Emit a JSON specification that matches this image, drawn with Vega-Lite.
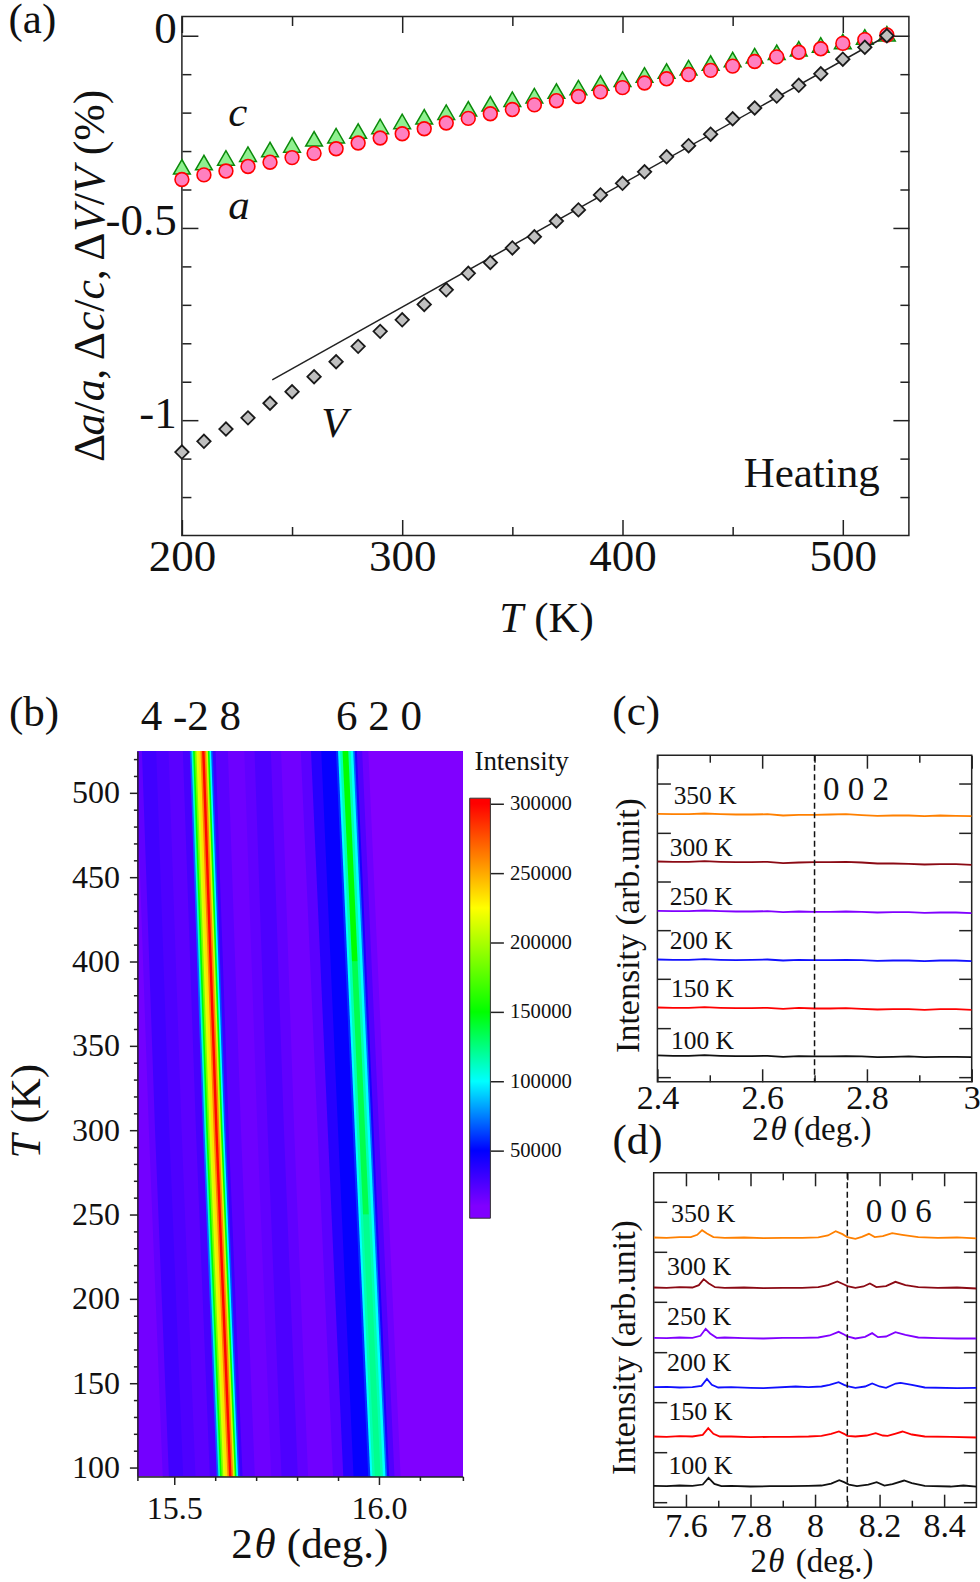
{
"$schema":"https://vega.github.io/schema/vega-lite/v6.json",
"background":"white",
"padding":{"left":5.4,"top":-2.5,"right":0,"bottom":0},
"config":{
"view":{"stroke":null},
"text":{"font":"Liberation Serif","color":"#111"},
"axis":{"grid":false,"domain":false,"labels":false,"ticks":true,"tickColor":"#222","tickWidth":1.5,"tickRound":false,"labelFont":"Liberation Serif","labelColor":"#111","labelFlush":false,"labelOverlap":false,"labelBound":false,"titleFont":"Liberation Serif","titleFontWeight":"normal","titleColor":"#111"}
},
"datasets":{
"heat":[
{"k":"b00","t":94,"x":15.4,"i":14000},{"k":"b00","t":525,"x":15.4,"i":14000},
{"k":"b01","t":94,"x":15.472,"i":20000},{"k":"b01","t":300,"x":15.438,"i":20000},{"k":"b01","t":525,"x":15.406,"i":20000},
{"k":"b02","t":94,"x":15.487,"i":30000},{"k":"b02","t":300,"x":15.453,"i":30000},{"k":"b02","t":525,"x":15.421,"i":30000},
{"k":"b03","t":94,"x":15.522,"i":26000},{"k":"b03","t":300,"x":15.488,"i":26000},{"k":"b03","t":525,"x":15.456,"i":26000},
{"k":"b04","t":94,"x":15.552,"i":22000},{"k":"b04","t":300,"x":15.518,"i":22000},{"k":"b04","t":525,"x":15.486,"i":22000},
{"k":"b05","t":94,"x":15.587,"i":28000},{"k":"b05","t":300,"x":15.553,"i":28000},{"k":"b05","t":525,"x":15.521,"i":28000},
{"k":"p01","t":94,"x":15.604,"i":70000},{"k":"p01","t":300,"x":15.57,"i":70000},{"k":"p01","t":525,"x":15.538,"i":70000},
{"k":"p02","t":94,"x":15.608,"i":110000},{"k":"p02","t":300,"x":15.574,"i":110000},{"k":"p02","t":525,"x":15.542,"i":110000},
{"k":"p03","t":94,"x":15.612,"i":150000},{"k":"p03","t":300,"x":15.578,"i":150000},{"k":"p03","t":525,"x":15.546,"i":150000},
{"k":"p04","t":94,"x":15.616,"i":185000},{"k":"p04","t":300,"x":15.582,"i":185000},{"k":"p04","t":525,"x":15.55,"i":185000},
{"k":"p05","t":94,"x":15.62,"i":215000},{"k":"p05","t":300,"x":15.586,"i":215000},{"k":"p05","t":525,"x":15.554,"i":215000},
{"k":"p06","t":94,"x":15.625,"i":235000},{"k":"p06","t":300,"x":15.591,"i":235000},{"k":"p06","t":525,"x":15.559,"i":235000},
{"k":"p07","t":94,"x":15.63,"i":262000},{"k":"p07","t":300,"x":15.596,"i":262000},{"k":"p07","t":525,"x":15.564,"i":262000},
{"k":"p08","t":94,"x":15.634,"i":298000},{"k":"p08","t":300,"x":15.6,"i":298000},{"k":"p08","t":525,"x":15.568,"i":298000},
{"k":"p09","t":94,"x":15.64,"i":262000},{"k":"p09","t":300,"x":15.606,"i":262000},{"k":"p09","t":525,"x":15.574,"i":262000},
{"k":"p10","t":94,"x":15.644,"i":210000},{"k":"p10","t":300,"x":15.61,"i":210000},{"k":"p10","t":525,"x":15.578,"i":210000},
{"k":"p11","t":94,"x":15.648,"i":150000},{"k":"p11","t":300,"x":15.614,"i":150000},{"k":"p11","t":525,"x":15.582,"i":150000},
{"k":"p12","t":94,"x":15.652,"i":100000},{"k":"p12","t":300,"x":15.618,"i":100000},{"k":"p12","t":525,"x":15.586,"i":100000},
{"k":"p13","t":94,"x":15.656,"i":65000},{"k":"p13","t":300,"x":15.622,"i":65000},{"k":"p13","t":525,"x":15.59,"i":65000},
{"k":"p14","t":94,"x":15.66,"i":32000},{"k":"p14","t":300,"x":15.626,"i":32000},{"k":"p14","t":525,"x":15.594,"i":32000},
{"k":"b06","t":94,"x":15.667,"i":22000},{"k":"b06","t":300,"x":15.633,"i":22000},{"k":"b06","t":525,"x":15.601,"i":22000},
{"k":"b07","t":94,"x":15.697,"i":16000},{"k":"b07","t":300,"x":15.663,"i":16000},{"k":"b07","t":525,"x":15.631,"i":16000},
{"k":"b08","t":94,"x":15.737,"i":20000},{"k":"b08","t":300,"x":15.703,"i":20000},{"k":"b08","t":525,"x":15.671,"i":20000},
{"k":"b09","t":94,"x":15.762,"i":26000},{"k":"b09","t":300,"x":15.728,"i":26000},{"k":"b09","t":525,"x":15.696,"i":26000},
{"k":"b10","t":94,"x":15.802,"i":20000},{"k":"b10","t":300,"x":15.768,"i":20000},{"k":"b10","t":525,"x":15.736,"i":20000},
{"k":"b11","t":94,"x":15.827,"i":15000},{"k":"b11","t":300,"x":15.793,"i":15000},{"k":"b11","t":525,"x":15.761,"i":15000},
{"k":"b12","t":94,"x":15.888,"i":22000},{"k":"b12","t":300,"x":15.85,"i":22000},{"k":"b12","t":525,"x":15.809,"i":22000},
{"k":"b13","t":94,"x":15.913,"i":38000},{"k":"b13","t":300,"x":15.875,"i":38000},{"k":"b13","t":525,"x":15.834,"i":38000},
{"k":"b14","t":94,"x":15.938,"i":48000},{"k":"b14","t":300,"x":15.9,"i":48000},{"k":"b14","t":525,"x":15.859,"i":48000},
{"k":"q01","t":94,"x":15.974,"i":60000},{"k":"q01","t":300,"x":15.936,"i":60000},{"k":"q01","t":525,"x":15.895,"i":60000},
{"k":"q02","t":94,"x":15.979,"i":100000},{"k":"q02","t":300,"x":15.941,"i":100000},{"k":"q02","t":525,"x":15.9,"i":100000},
{"k":"q03","t":94,"x":15.984,"i":115000},{"k":"q03","t":300,"x":15.946,"i":115000},{"k":"q03","t":525,"x":15.905,"i":115000},
{"k":"q04","t":94,"x":15.99,"i":122000},{"k":"q04","t":250,"x":15.961,"i":122000},
{"k":"q05","t":250,"x":15.961,"i":135000},{"k":"q05","t":400,"x":15.934,"i":135000},
{"k":"q06","t":400,"x":15.934,"i":150000},{"k":"q06","t":525,"x":15.911,"i":150000},
{"k":"q07","t":94,"x":16.004,"i":115000},{"k":"q07","t":300,"x":15.966,"i":115000},{"k":"q07","t":525,"x":15.925,"i":115000},
{"k":"q08","t":94,"x":16.01,"i":100000},{"k":"q08","t":300,"x":15.972,"i":100000},{"k":"q08","t":525,"x":15.931,"i":100000},
{"k":"q09","t":94,"x":16.016,"i":70000},{"k":"q09","t":300,"x":15.978,"i":70000},{"k":"q09","t":525,"x":15.937,"i":70000},
{"k":"q10","t":94,"x":16.02,"i":42000},{"k":"q10","t":300,"x":15.982,"i":42000},{"k":"q10","t":525,"x":15.941,"i":42000},
{"k":"b15","t":94,"x":16.025,"i":25000},{"k":"b15","t":300,"x":15.987,"i":25000},{"k":"b15","t":525,"x":15.946,"i":25000},
{"k":"b16","t":94,"x":16.038,"i":16000},{"k":"b16","t":300,"x":16.0,"i":16000},{"k":"b16","t":525,"x":15.959,"i":16000},
{"k":"b17","t":94,"x":16.053,"i":10000},{"k":"b17","t":300,"x":16.015,"i":10000},{"k":"b17","t":525,"x":15.974,"i":10000}
]
},
"vconcat":[
{"bounds":"flush","spacing":43.5,"hconcat":[
{"width":1,"height":1,"data":{"values":[{"n":1}]},"mark":{"type":"point","opacity":0},"encoding":{}},
{"width":727,"height":519,"view":{"stroke":"#222","strokeWidth":1.5},
"resolve":{"axis":{"x":"independent","y":"independent"}},
"layer":[
{"data":{"values":[{"x":200,"y":-0.341},{"x":210,"y":-0.33},{"x":220,"y":-0.318},{"x":230,"y":-0.308},{"x":240,"y":-0.296},{"x":250,"y":-0.284},{"x":260,"y":-0.268},{"x":270,"y":-0.26},{"x":280,"y":-0.248},{"x":290,"y":-0.236},{"x":300,"y":-0.223},{"x":310,"y":-0.211},{"x":320,"y":-0.199},{"x":330,"y":-0.19},{"x":340,"y":-0.177},{"x":350,"y":-0.165},{"x":360,"y":-0.156},{"x":370,"y":-0.144},{"x":380,"y":-0.135},{"x":390,"y":-0.123},{"x":400,"y":-0.113},{"x":410,"y":-0.102},{"x":420,"y":-0.092},{"x":430,"y":-0.083},{"x":440,"y":-0.071},{"x":450,"y":-0.062},{"x":460,"y":-0.052},{"x":470,"y":-0.043},{"x":480,"y":-0.034},{"x":490,"y":-0.024},{"x":500,"y":-0.015},{"x":510,"y":-0.003},{"x":520,"y":0.005}]},
"mark":{"type":"point","shape":"triangle-up","filled":true,"opacity":1,"fill":"#90f090","stroke":"#0a8a0a","strokeWidth":1.5,"size":280},
"encoding":{"x":{"field":"x","type":"quantitative","title":null,"scale":{"domain":[200,530]},"axis":{"orient":"bottom","values":[200,300,400,500],"tickSize":-16,"labels":true,"labelFontSize":45,"labelPadding":14.7,"format":"d"}},
"y":{"field":"y","type":"quantitative","title":null,"scale":{"domain":[-1.3,0.05]},"axis":{"orient":"left","values":[0,-0.5,-1],"tickSize":-16,"labels":true,"labelFontSize":45,"labelPadding":21.7,"labelOffset":-7,"format":"~g","labelExpr":"replace(datum.label,'−','-')"}}}},
{"data":{"values":[{"x":200,"y":-0.374},{"x":210,"y":-0.362},{"x":220,"y":-0.352},{"x":230,"y":-0.34},{"x":240,"y":-0.329},{"x":250,"y":-0.317},{"x":260,"y":-0.306},{"x":270,"y":-0.294},{"x":280,"y":-0.279},{"x":290,"y":-0.266},{"x":300,"y":-0.255},{"x":310,"y":-0.242},{"x":320,"y":-0.227},{"x":330,"y":-0.215},{"x":340,"y":-0.203},{"x":350,"y":-0.192},{"x":360,"y":-0.18},{"x":370,"y":-0.169},{"x":380,"y":-0.158},{"x":390,"y":-0.146},{"x":400,"y":-0.135},{"x":410,"y":-0.123},{"x":420,"y":-0.112},{"x":430,"y":-0.101},{"x":440,"y":-0.09},{"x":450,"y":-0.079},{"x":460,"y":-0.067},{"x":470,"y":-0.055},{"x":480,"y":-0.043},{"x":490,"y":-0.034},{"x":500,"y":-0.02},{"x":510,"y":-0.01},{"x":520,"y":0.002}]},
"mark":{"type":"point","shape":"circle","filled":true,"opacity":1,"fill":"#ff80c0","stroke":"#ff0000","strokeWidth":1.6,"size":190},
"encoding":{"x":{"field":"x","type":"quantitative","title":null,"scale":{"domain":[200,530]},"axis":{"orient":"top","values":[200,300,400,500],"tickSize":-16}},
"y":{"field":"y","type":"quantitative","title":null,"scale":{"domain":[-1.3,0.05]},"axis":{"orient":"right","values":[0,-0.5,-1],"tickSize":-16}}}},
{"data":{"values":[{"x":241,"y":-0.895},{"x":520,"y":0}]},
"mark":{"type":"line","color":"#222","strokeWidth":1.5},
"encoding":{"x":{"field":"x","type":"quantitative","title":null,"scale":{"domain":[200,530]},"axis":{"orient":"bottom","values":[250,350,450],"tickSize":-9}},
"y":{"field":"y","type":"quantitative","title":null,"scale":{"domain":[-1.3,0.05]},"axis":{"orient":"left","values":[-0.1,-0.2,-0.3,-0.4,-0.6,-0.7,-0.8,-0.9,-1.1,-1.2],"tickSize":-9}}}},
{"data":{"values":[{"x":200,"y":-1.083},{"x":210,"y":-1.055},{"x":220,"y":-1.023},{"x":230,"y":-0.994},{"x":240,"y":-0.956},{"x":250,"y":-0.926},{"x":260,"y":-0.887},{"x":270,"y":-0.848},{"x":280,"y":-0.808},{"x":290,"y":-0.769},{"x":300,"y":-0.739},{"x":310,"y":-0.699},{"x":320,"y":-0.661},{"x":330,"y":-0.618},{"x":340,"y":-0.59},{"x":350,"y":-0.552},{"x":360,"y":-0.523},{"x":370,"y":-0.482},{"x":380,"y":-0.453},{"x":390,"y":-0.414},{"x":400,"y":-0.384},{"x":410,"y":-0.354},{"x":420,"y":-0.315},{"x":430,"y":-0.286},{"x":440,"y":-0.256},{"x":450,"y":-0.216},{"x":460,"y":-0.188},{"x":470,"y":-0.157},{"x":480,"y":-0.129},{"x":490,"y":-0.099},{"x":500,"y":-0.061},{"x":510,"y":-0.03},{"x":520,"y":0}]},
"mark":{"type":"point","shape":"diamond","filled":true,"opacity":1,"fill":"#c0c0c0","stroke":"#1a1a1a","strokeWidth":1.8,"size":180},
"encoding":{"x":{"field":"x","type":"quantitative","title":null,"scale":{"domain":[200,530]},"axis":{"orient":"top","values":[250,350,450],"tickSize":-9}},
"y":{"field":"y","type":"quantitative","title":null,"scale":{"domain":[-1.3,0.05]},"axis":{"orient":"right","values":[-0.1,-0.2,-0.3,-0.4,-0.6,-0.7,-0.8,-0.9,-1.1,-1.2],"tickSize":-9}}}},
{"data":{"values":[{"x":121.3,"y":0.008,"s":"(a)"},{"x":359.9,"y":-1.551,"s":"(K)"},{"x":455,"y":-1.174,"s":"Heating"}]},
"mark":{"type":"text","align":"left","baseline":"alphabetic","fontSize":43},
"encoding":{"x":{"field":"x","type":"quantitative","scale":{"domain":[200,530]},"axis":null},"y":{"field":"y","type":"quantitative","scale":{"domain":[-1.3,0.05]},"axis":null},"text":{"field":"s"}}},
{"data":{"values":[{"x":344,"y":-1.551,"s":"T"},{"x":221,"y":-0.234,"s":"c"},{"x":221,"y":-0.476,"s":"a"},{"x":263.2,"y":-1.045,"s":"V"}]},
"mark":{"type":"text","align":"left","baseline":"alphabetic","fontSize":43,"fontStyle":"italic"},
"encoding":{"x":{"field":"x","type":"quantitative","scale":{"domain":[200,530]},"axis":null},"y":{"field":"y","type":"quantitative","scale":{"domain":[-1.3,0.05]},"axis":null},"text":{"field":"s"}}},
{"data":{"values":[{"x":164.6,"y":-1.109,"s":"Δ"},{"x":164.6,"y":-0.983,"s":"/"},{"x":164.6,"y":-0.895,"s":", Δ"},{"x":164.6,"y":-0.718,"s":"/"},{"x":164.6,"y":-0.636,"s":", Δ"},{"x":164.6,"y":-0.441,"s":"/"},{"x":164.6,"y":-0.311,"s":"(%)"}]},
"mark":{"type":"text","align":"left","baseline":"alphabetic","fontSize":43.7,"angle":270},
"encoding":{"x":{"field":"x","type":"quantitative","scale":{"domain":[200,530]},"axis":null},"y":{"field":"y","type":"quantitative","scale":{"domain":[-1.3,0.05]},"axis":null},"text":{"field":"s"}}},
{"data":{"values":[{"x":164.6,"y":-1.04,"s":"a"},{"x":164.6,"y":-0.951,"s":"a"},{"x":164.6,"y":-0.768,"s":"c"},{"x":164.6,"y":-0.686,"s":"c"},{"x":164.6,"y":-0.51,"s":"V"},{"x":164.6,"y":-0.409,"s":"V"}]},
"mark":{"type":"text","align":"left","baseline":"alphabetic","fontSize":43.7,"fontStyle":"italic","angle":270},
"encoding":{"x":{"field":"x","type":"quantitative","scale":{"domain":[200,530]},"axis":null},"y":{"field":"y","type":"quantitative","scale":{"domain":[-1.3,0.05]},"axis":null},"text":{"field":"s"}}}
]}
]},
{"bounds":"flush","spacing":6.3,"hconcat":[
{"width":325.5,"height":725.5,
"resolve":{"axis":{"x":"independent","y":"independent"}},
"layer":[
{"data":{"name":"heat"},
"mark":{"type":"area","orient":"horizontal","clip":true,"interpolate":"linear"},
"encoding":{"x":{"field":"x","type":"quantitative","stack":null,"title":null,"scale":{"domain":[15.41,16.205]},"axis":{"orient":"bottom","values":[15.5,16],"format":".1f","tickSize":8,"domain":true,"domainColor":"#222","domainWidth":1.5,"labels":true,"labelFontSize":32,"labelPadding":9,"zindex":1}},"x2":{"datum":16.21},
"y":{"field":"t","type":"quantitative","title":null,"scale":{"domain":[94.7,524.8]},"axis":{"orient":"left","values":[100,150,200,250,300,350,400,450,500],"format":"d","tickSize":8,"domain":true,"domainColor":"#222","domainWidth":1.5,"labels":true,"labelFontSize":32,"labelPadding":10,"zindex":1}},
"detail":{"field":"k"},
"color":{"field":"i","type":"quantitative","legend":null,"scale":{"domain":[10000,50000,100000,150000,225000,262000,300000],"range":["#8000ff","#0000ff","#00ffff","#00ff00","#ffff00","#ff8000","#ff0000"],"interpolate":"rgb"}}}},
{"data":{"values":[{"x":15.0965,"y":539.4,"s":"(b)"},{"x":15.418,"y":537,"s":"4 -2 8"},{"x":15.895,"y":537,"s":"6 2 0"},{"x":15.639,"y":46.6,"s":"2"},{"x":15.775,"y":46.6,"s":"(deg.)"}]},
"mark":{"type":"text","align":"left","baseline":"alphabetic","fontSize":43},
"encoding":{"x":{"field":"x","type":"quantitative","title":null,"scale":{"domain":[15.41,16.205]},"axis":{"orient":"bottom","values":[15.41,15.6,15.7,15.8,15.9,16.1,16.205],"tickSize":4,"zindex":1}},
"y":{"field":"y","type":"quantitative","title":null,"scale":{"domain":[94.7,524.8]},"axis":{"orient":"left","values":[110,120,130,140,160,170,180,190,210,220,230,240,260,270,280,290,310,320,330,340,360,370,380,390,410,420,430,440,460,470,480,490,510,520],"tickSize":4,"zindex":1}},"text":{"field":"s"}}},
{"data":{"values":[{"x":15.696,"y":46.6,"s":"θ"}]},
"mark":{"type":"text","align":"left","baseline":"alphabetic","fontSize":43,"fontStyle":"italic"},
"encoding":{"x":{"field":"x","type":"quantitative","scale":{"domain":[15.41,16.205]},"axis":null},"y":{"field":"y","type":"quantitative","scale":{"domain":[94.7,524.8]},"axis":null},"text":{"field":"s"}}},
{"data":{"values":[{"x":15.172,"y":303.9,"s":"(K)"}]},
"mark":{"type":"text","align":"left","baseline":"alphabetic","fontSize":43,"angle":270},
"encoding":{"x":{"field":"x","type":"quantitative","scale":{"domain":[15.41,16.205]},"axis":null},"y":{"field":"y","type":"quantitative","scale":{"domain":[94.7,524.8]},"axis":null},"text":{"field":"s"}}},
{"data":{"values":[{"x":15.172,"y":283.2,"s":"T"}]},
"mark":{"type":"text","align":"left","baseline":"alphabetic","fontSize":43,"fontStyle":"italic","angle":270},
"encoding":{"x":{"field":"x","type":"quantitative","scale":{"domain":[15.41,16.205]},"axis":null},"y":{"field":"y","type":"quantitative","scale":{"domain":[94.7,524.8]},"axis":null},"text":{"field":"s"}}}
]},
{"bounds":"flush","spacing":184,"hconcat":[
{"bounds":"flush","spacing":46.2,"vconcat":[
{"width":1,"height":1,"data":{"values":[{"n":1}]},"mark":{"type":"point","opacity":0},"encoding":{}},
{"width":20.7,"height":420,
"title":{"text":"Intensity","anchor":"start","frame":"group","fontSize":27,"font":"Liberation Serif","fontWeight":"normal","color":"#111","baseline":"alphabetic","offset":-4.3,"dx":4.7},
"data":{"values":[{"lo":1300,"hi":304000}]},
"mark":{"type":"rect","stroke":"#333","strokeWidth":1,"color":{"gradient":"linear","x1":0,"y1":1,"x2":0,"y2":0,"stops":[{"offset":0,"color":"#8000ff"},{"offset":0.029,"color":"#8000ff"},{"offset":0.161,"color":"#0000ff"},{"offset":0.326,"color":"#00ffff"},{"offset":0.491,"color":"#00ff00"},{"offset":0.739,"color":"#ffff00"},{"offset":0.861,"color":"#ff8000"},{"offset":0.987,"color":"#ff0000"},{"offset":1,"color":"#ff0000"}]}},
"encoding":{"y":{"field":"lo","type":"quantitative","title":null,"scale":{"domain":[1300,304000]},"axis":{"orient":"right","values":[50000,100000,150000,200000,250000,300000],"format":"d","tickSize":13,"labels":true,"labelFontSize":20.7,"labelPadding":6}},"y2":{"field":"hi"}}}
]},
{"bounds":"flush","spacing":3.2,"vconcat":[
{"width":1,"height":1,"data":{"values":[{"n":1}]},"mark":{"type":"point","opacity":0},"encoding":{}},
{"bounds":"flush","spacing":417.6,"vconcat":[
{"bounds":"flush","spacing":2.7,"hconcat":[
{"width":1,"height":1,"data":{"values":[{"n":1}]},"mark":{"type":"point","opacity":0},"encoding":{}},
{"width":314.3,"height":326.6,"view":{"stroke":"#222","strokeWidth":1.5},
"resolve":{"axis":{"x":"independent","y":"independent"}},
"layer":[
{"data":{"values":[
{"t":"350 K","x":2.4,"y":790},{"t":"350 K","x":2.43,"y":789},{"t":"350 K","x":2.46,"y":789},{"t":"350 K","x":2.49,"y":791},{"t":"350 K","x":2.52,"y":789},{"t":"350 K","x":2.55,"y":788},{"t":"350 K","x":2.58,"y":788},{"t":"350 K","x":2.61,"y":789},{"t":"350 K","x":2.64,"y":785},{"t":"350 K","x":2.67,"y":787},{"t":"350 K","x":2.7,"y":787},{"t":"350 K","x":2.73,"y":788},{"t":"350 K","x":2.76,"y":789},{"t":"350 K","x":2.79,"y":786},{"t":"350 K","x":2.82,"y":784},{"t":"350 K","x":2.85,"y":785},{"t":"350 K","x":2.88,"y":785},{"t":"350 K","x":2.91,"y":783},{"t":"350 K","x":2.94,"y":785},{"t":"350 K","x":2.97,"y":784},{"t":"350 K","x":3,"y":783},
{"t":"300 K","x":2.4,"y":647},{"t":"300 K","x":2.43,"y":646},{"t":"300 K","x":2.46,"y":646},{"t":"300 K","x":2.49,"y":648},{"t":"300 K","x":2.52,"y":646},{"t":"300 K","x":2.55,"y":645},{"t":"300 K","x":2.58,"y":645},{"t":"300 K","x":2.61,"y":646},{"t":"300 K","x":2.64,"y":642},{"t":"300 K","x":2.67,"y":644},{"t":"300 K","x":2.7,"y":645},{"t":"300 K","x":2.73,"y":645},{"t":"300 K","x":2.76,"y":646},{"t":"300 K","x":2.79,"y":644},{"t":"300 K","x":2.82,"y":641},{"t":"300 K","x":2.85,"y":641},{"t":"300 K","x":2.88,"y":640},{"t":"300 K","x":2.91,"y":638},{"t":"300 K","x":2.94,"y":639},{"t":"300 K","x":2.97,"y":639},{"t":"300 K","x":3,"y":637},
{"t":"250 K","x":2.4,"y":499},{"t":"250 K","x":2.43,"y":498},{"t":"250 K","x":2.46,"y":498},{"t":"250 K","x":2.49,"y":500},{"t":"250 K","x":2.52,"y":498},{"t":"250 K","x":2.55,"y":497},{"t":"250 K","x":2.58,"y":497},{"t":"250 K","x":2.61,"y":498},{"t":"250 K","x":2.64,"y":495},{"t":"250 K","x":2.67,"y":497},{"t":"250 K","x":2.7,"y":496},{"t":"250 K","x":2.73,"y":496},{"t":"250 K","x":2.76,"y":497},{"t":"250 K","x":2.79,"y":496},{"t":"250 K","x":2.82,"y":494},{"t":"250 K","x":2.85,"y":495},{"t":"250 K","x":2.88,"y":495},{"t":"250 K","x":2.91,"y":493},{"t":"250 K","x":2.94,"y":494},{"t":"250 K","x":2.97,"y":494},{"t":"250 K","x":3,"y":492},
{"t":"200 K","x":2.4,"y":353},{"t":"200 K","x":2.43,"y":352},{"t":"200 K","x":2.46,"y":352},{"t":"200 K","x":2.49,"y":354},{"t":"200 K","x":2.52,"y":352},{"t":"200 K","x":2.55,"y":351},{"t":"200 K","x":2.58,"y":352},{"t":"200 K","x":2.61,"y":353},{"t":"200 K","x":2.64,"y":350},{"t":"200 K","x":2.67,"y":352},{"t":"200 K","x":2.7,"y":351},{"t":"200 K","x":2.73,"y":351},{"t":"200 K","x":2.76,"y":352},{"t":"200 K","x":2.79,"y":351},{"t":"200 K","x":2.82,"y":349},{"t":"200 K","x":2.85,"y":350},{"t":"200 K","x":2.88,"y":350},{"t":"200 K","x":2.91,"y":348},{"t":"200 K","x":2.94,"y":350},{"t":"200 K","x":2.97,"y":350},{"t":"200 K","x":3,"y":348},
{"t":"150 K","x":2.4,"y":209},{"t":"150 K","x":2.43,"y":208},{"t":"150 K","x":2.46,"y":208},{"t":"150 K","x":2.49,"y":210},{"t":"150 K","x":2.52,"y":208},{"t":"150 K","x":2.55,"y":207},{"t":"150 K","x":2.58,"y":207},{"t":"150 K","x":2.61,"y":208},{"t":"150 K","x":2.64,"y":205},{"t":"150 K","x":2.67,"y":208},{"t":"150 K","x":2.7,"y":206},{"t":"150 K","x":2.73,"y":206},{"t":"150 K","x":2.76,"y":207},{"t":"150 K","x":2.79,"y":205},{"t":"150 K","x":2.82,"y":203},{"t":"150 K","x":2.85,"y":204},{"t":"150 K","x":2.88,"y":204},{"t":"150 K","x":2.91,"y":202},{"t":"150 K","x":2.94,"y":204},{"t":"150 K","x":2.97,"y":204},{"t":"150 K","x":3,"y":202},
{"t":"100 K","x":2.4,"y":65},{"t":"100 K","x":2.43,"y":64},{"t":"100 K","x":2.46,"y":64},{"t":"100 K","x":2.49,"y":66},{"t":"100 K","x":2.52,"y":64},{"t":"100 K","x":2.55,"y":63},{"t":"100 K","x":2.58,"y":63},{"t":"100 K","x":2.61,"y":64},{"t":"100 K","x":2.64,"y":61},{"t":"100 K","x":2.67,"y":63},{"t":"100 K","x":2.7,"y":62},{"t":"100 K","x":2.73,"y":62},{"t":"100 K","x":2.76,"y":63},{"t":"100 K","x":2.79,"y":62},{"t":"100 K","x":2.82,"y":60},{"t":"100 K","x":2.85,"y":61},{"t":"100 K","x":2.88,"y":62},{"t":"100 K","x":2.91,"y":60},{"t":"100 K","x":2.94,"y":61},{"t":"100 K","x":2.97,"y":61},{"t":"100 K","x":3,"y":60}
]},
"mark":{"type":"line","strokeWidth":1.8,"clip":true},
"encoding":{"x":{"field":"x","type":"quantitative","title":null,"scale":{"domain":[2.4,3]},"axis":{"orient":"bottom","values":[2.4,2.6,2.8,3],"format":"~g","tickSize":-13,"labels":true,"labelFontSize":34,"labelPadding":13}},
"y":{"field":"y","type":"quantitative","scale":{"domain":[-14,966]},"title":"Intensity (arb.unit)","axis":{"orient":"left","values":[0,147,295,441,587,733,881],"tickSize":-13,"titleFontSize":34,"titleX":-19,"titleY":169.8,"titleAngle":270,"titleBaseline":"alphabetic"}},
"color":{"field":"t","type":"nominal","legend":null,"scale":{"domain":["350 K","300 K","250 K","200 K","150 K","100 K"],"range":["#ff8000","#8b0a14","#8000ff","#1010ff","#ff0000","#111111"]}}}},
{"data":{"values":[{"x":2.7}]},
"mark":{"type":"rule","strokeDash":[6,3.5],"strokeWidth":1.5,"color":"#111"},
"encoding":{"x":{"field":"x","type":"quantitative","title":null,"scale":{"domain":[2.4,3]},"axis":{"orient":"top","values":[2.4,2.6,2.8,3],"tickSize":-13}}}},
{"data":{"values":[{"x":2.431,"y":821,"s":"350 K"},{"x":2.4235,"y":663,"s":"300 K"},{"x":2.4235,"y":518,"s":"250 K"},{"x":2.4235,"y":385,"s":"200 K"},{"x":2.426,"y":240,"s":"150 K"},{"x":2.426,"y":83,"s":"100 K"}]},
"mark":{"type":"text","align":"left","baseline":"alphabetic","fontSize":25.5},
"encoding":{"x":{"field":"x","type":"quantitative","title":null,"scale":{"domain":[2.4,3]},"axis":{"orient":"bottom","values":[2.5,2.7,2.9],"tickSize":-7}},
"y":{"field":"y","type":"quantitative","title":null,"scale":{"domain":[-14,966]},"axis":{"orient":"right","values":[0,147,295,441,587,733,881],"tickSize":-13}},"text":{"field":"s"}}},
{"data":{"values":[{"x":2.716,"y":831,"s":"0 0 2"},{"x":2.581,"y":-190,"s":"2"},{"x":2.66,"y":-190,"s":"(deg.)"}]},
"mark":{"type":"text","align":"left","baseline":"alphabetic","fontSize":33},
"encoding":{"x":{"field":"x","type":"quantitative","title":null,"scale":{"domain":[2.4,3]},"axis":{"orient":"top","values":[2.5,2.7,2.9],"tickSize":-7}},
"y":{"field":"y","type":"quantitative","scale":{"domain":[-14,966]},"axis":null},"text":{"field":"s"}}},
{"data":{"values":[{"x":2.616,"y":-190,"s":"θ"}]},
"mark":{"type":"text","align":"left","baseline":"alphabetic","fontSize":33,"fontStyle":"italic"},
"encoding":{"x":{"field":"x","type":"quantitative","scale":{"domain":[2.4,3]},"axis":null},"y":{"field":"y","type":"quantitative","scale":{"domain":[-14,966]},"axis":null},"text":{"field":"s"}}},
{"data":{"values":[{"x":2.314,"y":1058,"s":"(c)"}]},
"mark":{"type":"text","align":"left","baseline":"alphabetic","fontSize":43},
"encoding":{"x":{"field":"x","type":"quantitative","scale":{"domain":[2.4,3]},"axis":null},"y":{"field":"y","type":"quantitative","scale":{"domain":[-14,966]},"axis":null},"text":{"field":"s"}}}
]}
]},
{"width":322.7,"height":334.4,"view":{"stroke":"#222","strokeWidth":1.5},
"resolve":{"axis":{"x":"independent","y":"independent"}},
"layer":[
{"data":{"values":[
{"t":"350 K","x":7.5,"y":794},{"t":"350 K","x":7.54,"y":793},{"t":"350 K","x":7.58,"y":795},{"t":"350 K","x":7.615,"y":795},{"t":"350 K","x":7.635,"y":802},{"t":"350 K","x":7.65,"y":816},{"t":"350 K","x":7.665,"y":806},{"t":"350 K","x":7.685,"y":795},{"t":"350 K","x":7.72,"y":793},{"t":"350 K","x":7.78,"y":794},{"t":"350 K","x":7.84,"y":792},{"t":"350 K","x":7.9,"y":793},{"t":"350 K","x":7.96,"y":793},{"t":"350 K","x":8.01,"y":794},{"t":"350 K","x":8.04,"y":800},{"t":"350 K","x":8.064,"y":813},{"t":"350 K","x":8.085,"y":804},{"t":"350 K","x":8.1,"y":795},{"t":"350 K","x":8.125,"y":790},{"t":"350 K","x":8.145,"y":796},{"t":"350 K","x":8.167,"y":805},{"t":"350 K","x":8.185,"y":795},{"t":"350 K","x":8.21,"y":798},{"t":"350 K","x":8.239,"y":807},{"t":"350 K","x":8.27,"y":802},{"t":"350 K","x":8.32,"y":795},{"t":"350 K","x":8.38,"y":793},{"t":"350 K","x":8.44,"y":794},{"t":"350 K","x":8.5,"y":791},
{"t":"300 K","x":7.5,"y":644},{"t":"300 K","x":7.54,"y":643},{"t":"300 K","x":7.58,"y":645},{"t":"300 K","x":7.62,"y":644},{"t":"300 K","x":7.64,"y":651},{"t":"300 K","x":7.655,"y":669},{"t":"300 K","x":7.67,"y":657},{"t":"300 K","x":7.69,"y":645},{"t":"300 K","x":7.72,"y":643},{"t":"300 K","x":7.78,"y":644},{"t":"300 K","x":7.84,"y":642},{"t":"300 K","x":7.9,"y":643},{"t":"300 K","x":7.96,"y":643},{"t":"300 K","x":8.01,"y":645},{"t":"300 K","x":8.04,"y":651},{"t":"300 K","x":8.069,"y":662},{"t":"300 K","x":8.09,"y":653},{"t":"300 K","x":8.1,"y":648},{"t":"300 K","x":8.125,"y":643},{"t":"300 K","x":8.15,"y":647},{"t":"300 K","x":8.17,"y":656},{"t":"300 K","x":8.19,"y":645},{"t":"300 K","x":8.22,"y":648},{"t":"300 K","x":8.249,"y":661},{"t":"300 K","x":8.28,"y":651},{"t":"300 K","x":8.32,"y":645},{"t":"300 K","x":8.38,"y":643},{"t":"300 K","x":8.44,"y":644},{"t":"300 K","x":8.5,"y":641},
{"t":"250 K","x":7.5,"y":493},{"t":"250 K","x":7.54,"y":492},{"t":"250 K","x":7.58,"y":494},{"t":"250 K","x":7.62,"y":493},{"t":"250 K","x":7.645,"y":499},{"t":"250 K","x":7.661,"y":520},{"t":"250 K","x":7.675,"y":506},{"t":"250 K","x":7.695,"y":493},{"t":"250 K","x":7.72,"y":494},{"t":"250 K","x":7.78,"y":492},{"t":"250 K","x":7.84,"y":491},{"t":"250 K","x":7.9,"y":493},{"t":"250 K","x":7.96,"y":493},{"t":"250 K","x":8.01,"y":494},{"t":"250 K","x":8.045,"y":500},{"t":"250 K","x":8.073,"y":511},{"t":"250 K","x":8.09,"y":503},{"t":"250 K","x":8.1,"y":497},{"t":"250 K","x":8.125,"y":491},{"t":"250 K","x":8.155,"y":496},{"t":"250 K","x":8.177,"y":507},{"t":"250 K","x":8.195,"y":495},{"t":"250 K","x":8.22,"y":497},{"t":"250 K","x":8.249,"y":510},{"t":"250 K","x":8.28,"y":502},{"t":"250 K","x":8.32,"y":494},{"t":"250 K","x":8.38,"y":492},{"t":"250 K","x":8.44,"y":491},{"t":"250 K","x":8.5,"y":491},
{"t":"200 K","x":7.5,"y":345},{"t":"200 K","x":7.54,"y":346},{"t":"200 K","x":7.58,"y":344},{"t":"200 K","x":7.62,"y":345},{"t":"200 K","x":7.648,"y":349},{"t":"200 K","x":7.665,"y":370},{"t":"200 K","x":7.68,"y":352},{"t":"200 K","x":7.7,"y":344},{"t":"200 K","x":7.74,"y":345},{"t":"200 K","x":7.8,"y":343},{"t":"200 K","x":7.84,"y":342},{"t":"200 K","x":7.94,"y":347},{"t":"200 K","x":7.98,"y":345},{"t":"200 K","x":8.02,"y":347},{"t":"200 K","x":8.045,"y":352},{"t":"200 K","x":8.073,"y":360},{"t":"200 K","x":8.09,"y":352},{"t":"200 K","x":8.1,"y":348},{"t":"200 K","x":8.125,"y":343},{"t":"200 K","x":8.155,"y":347},{"t":"200 K","x":8.177,"y":356},{"t":"200 K","x":8.2,"y":347},{"t":"200 K","x":8.22,"y":343},{"t":"200 K","x":8.25,"y":356},{"t":"200 K","x":8.265,"y":358},{"t":"200 K","x":8.3,"y":352},{"t":"200 K","x":8.34,"y":344},{"t":"200 K","x":8.44,"y":342},{"t":"200 K","x":8.5,"y":343},
{"t":"150 K","x":7.5,"y":197},{"t":"150 K","x":7.54,"y":196},{"t":"150 K","x":7.58,"y":198},{"t":"150 K","x":7.62,"y":197},{"t":"150 K","x":7.652,"y":202},{"t":"150 K","x":7.669,"y":222},{"t":"150 K","x":7.685,"y":205},{"t":"150 K","x":7.705,"y":197},{"t":"150 K","x":7.74,"y":197},{"t":"150 K","x":7.8,"y":195},{"t":"150 K","x":7.86,"y":196},{"t":"150 K","x":7.92,"y":196},{"t":"150 K","x":7.98,"y":197},{"t":"150 K","x":8.02,"y":199},{"t":"150 K","x":8.05,"y":205},{"t":"150 K","x":8.074,"y":212},{"t":"150 K","x":8.09,"y":205},{"t":"150 K","x":8.1,"y":199},{"t":"150 K","x":8.125,"y":197},{"t":"150 K","x":8.16,"y":200},{"t":"150 K","x":8.188,"y":207},{"t":"150 K","x":8.21,"y":200},{"t":"150 K","x":8.225,"y":199},{"t":"150 K","x":8.25,"y":206},{"t":"150 K","x":8.271,"y":212},{"t":"150 K","x":8.3,"y":203},{"t":"150 K","x":8.34,"y":197},{"t":"150 K","x":8.42,"y":196},{"t":"150 K","x":8.5,"y":194},
{"t":"100 K","x":7.5,"y":49},{"t":"100 K","x":7.54,"y":48},{"t":"100 K","x":7.58,"y":50},{"t":"100 K","x":7.62,"y":49},{"t":"100 K","x":7.652,"y":53},{"t":"100 K","x":7.67,"y":73},{"t":"100 K","x":7.688,"y":55},{"t":"100 K","x":7.71,"y":48},{"t":"100 K","x":7.74,"y":49},{"t":"100 K","x":7.8,"y":47},{"t":"100 K","x":7.86,"y":48},{"t":"100 K","x":7.92,"y":48},{"t":"100 K","x":7.98,"y":49},{"t":"100 K","x":8.02,"y":50},{"t":"100 K","x":8.05,"y":56},{"t":"100 K","x":8.075,"y":66},{"t":"100 K","x":8.09,"y":60},{"t":"100 K","x":8.105,"y":53},{"t":"100 K","x":8.13,"y":48},{"t":"100 K","x":8.165,"y":53},{"t":"100 K","x":8.191,"y":60},{"t":"100 K","x":8.215,"y":50},{"t":"100 K","x":8.24,"y":54},{"t":"100 K","x":8.276,"y":65},{"t":"100 K","x":8.3,"y":57},{"t":"100 K","x":8.34,"y":49},{"t":"100 K","x":8.42,"y":47},{"t":"100 K","x":8.46,"y":50},{"t":"100 K","x":8.5,"y":47}
]},
"mark":{"type":"line","strokeWidth":1.8,"clip":true},
"encoding":{"x":{"field":"x","type":"quantitative","title":null,"scale":{"domain":[7.5,8.5]},"axis":{"orient":"bottom","values":[7.6,7.8,8,8.2,8.4],"format":"~g","tickSize":-13,"labels":true,"labelFontSize":34,"labelPadding":15.5}},
"y":{"field":"y","type":"quantitative","scale":{"domain":[-15,988]},"title":"Intensity (arb.unit)","axis":{"orient":"left","values":[0,150,300,450,601,751,901],"tickSize":-13,"titleFontSize":34,"titleX":-19,"titleY":174.2,"titleAngle":270,"titleBaseline":"alphabetic"}},
"color":{"field":"t","type":"nominal","legend":null,"scale":{"domain":["350 K","300 K","250 K","200 K","150 K","100 K"],"range":["#ff8000","#8b0a14","#8000ff","#1010ff","#ff0000","#111111"]}}}},
{"data":{"values":[{"x":8.1}]},
"mark":{"type":"rule","strokeDash":[6,3.5],"strokeWidth":1.5,"color":"#111"},
"encoding":{"x":{"field":"x","type":"quantitative","title":null,"scale":{"domain":[7.5,8.5]},"axis":{"orient":"top","values":[7.6,7.8,8,8.2,8.4],"tickSize":-13}}}},
{"data":{"values":[{"x":7.554,"y":840,"s":"350 K"},{"x":7.541,"y":680,"s":"300 K"},{"x":7.541,"y":530,"s":"250 K"},{"x":7.541,"y":394,"s":"200 K"},{"x":7.5455,"y":246,"s":"150 K"},{"x":7.5455,"y":85,"s":"100 K"}]},
"mark":{"type":"text","align":"left","baseline":"alphabetic","fontSize":26},
"encoding":{"x":{"field":"x","type":"quantitative","title":null,"scale":{"domain":[7.5,8.5]},"axis":{"orient":"bottom","values":[7.7,7.9,8.1,8.3],"tickSize":-7}},
"y":{"field":"y","type":"quantitative","title":null,"scale":{"domain":[-15,988]},"axis":{"orient":"right","values":[0,150,300,450,601,751,901],"tickSize":-13}},"text":{"field":"s"}}},
{"data":{"values":[{"x":8.157,"y":841,"s":"0 0 6"},{"x":7.8,"y":-208,"s":"2"},{"x":7.94,"y":-208,"s":"(deg.)"}]},
"mark":{"type":"text","align":"left","baseline":"alphabetic","fontSize":33},
"encoding":{"x":{"field":"x","type":"quantitative","title":null,"scale":{"domain":[7.5,8.5]},"axis":{"orient":"top","values":[7.7,7.9,8.1,8.3],"tickSize":-7}},
"y":{"field":"y","type":"quantitative","scale":{"domain":[-15,988]},"axis":null},"text":{"field":"s"}}},
{"data":{"values":[{"x":7.855,"y":-208,"s":"θ"}]},
"mark":{"type":"text","align":"left","baseline":"alphabetic","fontSize":33,"fontStyle":"italic"},
"encoding":{"x":{"field":"x","type":"quantitative","scale":{"domain":[7.5,8.5]},"axis":null},"y":{"field":"y","type":"quantitative","scale":{"domain":[-15,988]},"axis":null},"text":{"field":"s"}}},
{"data":{"values":[{"x":7.372,"y":1043,"s":"(d)"}]},
"mark":{"type":"text","align":"left","baseline":"alphabetic","fontSize":43},
"encoding":{"x":{"field":"x","type":"quantitative","scale":{"domain":[7.5,8.5]},"axis":null},"y":{"field":"y","type":"quantitative","scale":{"domain":[-15,988]},"axis":null},"text":{"field":"s"}}}
]}
]}
]}
]}
]}
],"spacing":734.5,"bounds":"flush"}
